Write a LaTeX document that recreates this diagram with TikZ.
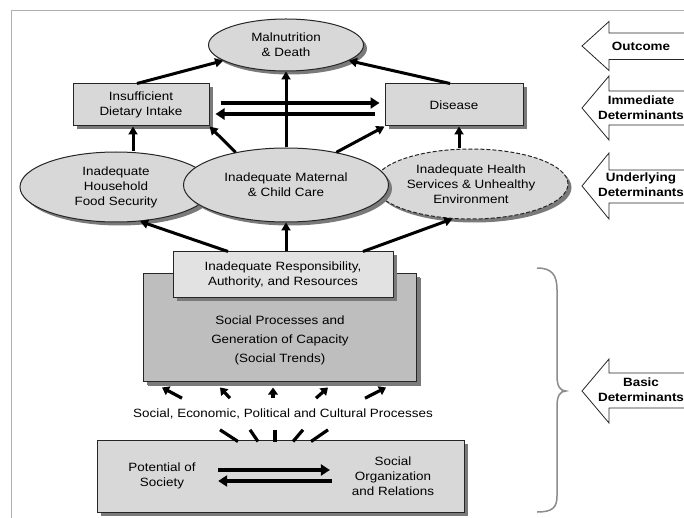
\documentclass[tikz,border=0pt]{standalone}
\usepackage{fontspec}
\setmainfont{Liberation Sans}[FakeStretch=1.12]
\usetikzlibrary{shapes.geometric,arrows.meta,shadows}
\definecolor{boxgray}{HTML}{D8D8D8}
\definecolor{respgray}{HTML}{E2E2E2}
\definecolor{socgray}{HTML}{BEBEBE}
\definecolor{shadowgray}{HTML}{7A7A7A}
\definecolor{edgecol}{HTML}{262626}
\definecolor{framecol}{HTML}{B0B0B0}
\definecolor{bracecol}{HTML}{8C8C8C}
\begin{document}
\begin{tikzpicture}[x=1pt,y=-1pt,
  font=\fontsize{12}{15}\selectfont,
  shad/.style={drop shadow={shadow xshift=3.5pt,shadow yshift=-3.5pt,fill=shadowgray,opacity=1}},
  rbox/.style={rectangle,draw=edgecol,line width=1pt,fill=boxgray,inner sep=0pt,align=center,shad},
  ell/.style={ellipse,draw=edgecol,line width=1pt,fill=boxgray,inner sep=0pt,align=center,shad},
  arr/.style={line width=3pt,-{Triangle[length=8pt,width=9pt]}},
  harr/.style={line width=4pt,-{Triangle[length=9pt,width=11pt]}},
  sarr/.style={line width=3.2pt,-{Triangle[length=7pt,width=9.5pt]}},
  sline/.style={line width=3.2pt},
  blk/.style={draw=edgecol,line width=0.8pt,fill=white},
  blktext/.style={font=\fontsize{12}{15}\selectfont\bfseries,align=center,inner sep=0pt},
  txt/.style={align=center}
]
\useasboundingbox (0,0) rectangle (684,518);
\fill[white] (0,0) rectangle (684,518);
\draw[framecol,line width=1pt] (11,518) -- (11,11) -- (684,11);

% right-hand block arrows
\draw[blk] (582,46) -- (609,21.5) -- (609,33) -- (690,33) -- (690,59.5) -- (609,59.5) -- (609,70.5) -- cycle;
\node[blktext] (outc) at (641,46) {Outcome};
\draw[blk] (582,108) -- (609,76) -- (609,91) -- (690,91) -- (690,125) -- (609,125) -- (609,140) -- cycle;
\node[blktext] (immd) at (641,108) {Immediate\\Determinants};
\draw[blk] (582,186) -- (609,153) -- (609,170) -- (690,170) -- (690,203) -- (609,203) -- (609,219) -- cycle;
\node[blktext] (undd) at (641,185) {Underlying\\Determinants};
\draw[blk] (582,391) -- (609,359) -- (609,373) -- (690,373) -- (690,408) -- (609,408) -- (609,423) -- cycle;
\node[blktext] (basd) at (641,390) {Basic\\Determinants};

% brace
\draw[bracecol,line width=1.5pt] (537,268) .. controls (552,268) and (557,275) .. (557,290)
  -- (557,376) .. controls (557,386) and (560,391) .. (566,391)
  .. controls (560,391) and (557,396) .. (557,406)
  -- (557,496) .. controls (557,508) and (552,512) .. (537,512);

% nodes
\node[ell,minimum width=155pt,minimum height=52pt] (mal) at (286,45) {Malnutrition\\\& Death};
\node[rbox,minimum width=136pt,minimum height=42pt] (diet) at (141,105) {Insufficient\\Dietary Intake};
\node[rbox,minimum width=138pt,minimum height=42pt] (dis) at (454,105) {Disease};
\node[ell,minimum width=192pt,minimum height=70pt] (food) at (116,187) {Inadequate\\Household\\Food Security};
\node[ell,dash pattern=on 4pt off 2pt,minimum width=194pt,minimum height=70pt] (health) at (471,184) {Inadequate Health\\Services \& Unhealthy\\Environment};
\node[ell,minimum width=205pt,minimum height=74pt] (mat) at (286,185) {Inadequate Maternal\\\& Child Care};

\node[rbox,fill=socgray,minimum width=273pt,minimum height=108pt,
  drop shadow={shadow xshift=5pt,shadow yshift=-5pt,fill=shadowgray,opacity=1}] (soc) at (279.5,327) {};
\node[txt,font=\fontsize{12}{19}\selectfont] (soctxt) at (280,340) {Social Processes and\\Generation of Capacity\\(Social Trends)};
\node[rbox,fill=respgray,minimum width=220pt,minimum height=45pt] (resp) at (283,274.5) {Inadequate Responsibility,\\Authority, and Resources};

\node[inner sep=0pt] (proc) at (283,414) {Social, Economic, Political and Cultural Processes};

\node[rbox,minimum width=367pt,minimum height=72pt] (bot) at (280.5,476) {};
\node[txt] (pot) at (162,476) {Potential of\\Society};
\node[txt] (org) at (393,476) {Social\\Organization\\and Relations};

% connectors
\draw[arr] ([xshift=-4pt]diet.north) -- (mal.194);
\draw[arr] ([xshift=-4pt]dis.north) -- (mal.-14);
\draw[arr] (mat.north) -- (mal.south);
\draw[harr] ([xshift=11pt,yshift=2pt]diet.east) -- ([xshift=-5pt,yshift=2pt]dis.west);
\draw[harr] ([xshift=-10pt,yshift=-9pt]dis.west) -- ([xshift=6pt,yshift=-9pt]diet.east);
\draw[arr] ([xshift=-8pt]diet.south |- food.north) -- ([xshift=-8pt]diet.south);
\draw[arr] (mat.147) -- (diet.south east);
\draw[arr] (mat.33) -- (dis.south west);
\draw[arr] ([xshift=5pt]dis.south |- health.north) -- ([xshift=5pt]dis.south);
\draw[arr] ([xshift=-55pt]resp.north) -- (food.-55);
\draw[arr] (mat.south |- resp.north) -- (mat.south);
\draw[arr] ([xshift=80pt]resp.north) -- (health.-118);

% processes arrows
\foreach \a/\b in {-101/-117.5,-53/-59.5,-10/-6.5,33/48.5,82/106.5}
  \draw[sarr] ([xshift=\a pt,yshift=10.5pt]proc.north) -- ([xshift=\b pt,yshift=-6pt]soc.south);
\foreach \a/\b in {-63/-42.5,-33/-22.5,-8/-5.5,20/12.5,45/30.5}
  \draw[sline] ([xshift=\a pt,yshift=-10.5pt]proc.south) -- ([xshift=\b pt,yshift=-2pt]bot.north);

% bottom double arrows
\draw[harr] ([xshift=19pt,yshift=6pt]pot.east) -- ([xshift=-18.5pt,yshift=6pt]org.west);
\draw[harr] ([xshift=-16.5pt,yshift=-5pt]org.west) -- ([xshift=19pt,yshift=-5pt]pot.east);
\end{tikzpicture}
\end{document}
